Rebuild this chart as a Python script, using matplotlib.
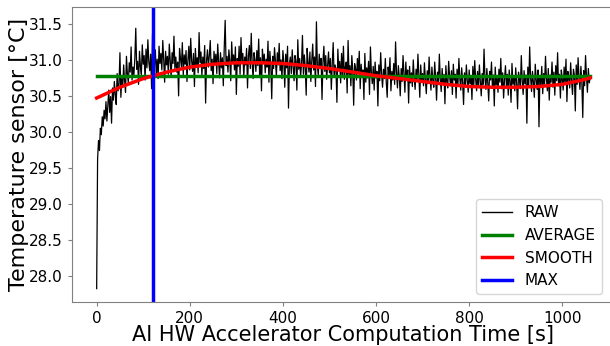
import numpy as np
import matplotlib
matplotlib.use("Agg")
import matplotlib.pyplot as plt

# sensor readings, one every 2 s
sample_step = 2
raw_temp = [
    27.82, 29.62, 29.88, 29.74, 30.05, 29.96, 30.21, 30.08, 30.30, 30.18,
    30.42, 30.15, 30.36, 30.58, 30.27, 30.49, 30.12, 30.61, 30.44, 30.70,
    30.52, 30.38, 30.81, 30.57, 30.66, 31.10, 30.48, 30.74, 30.62, 30.93,
    30.71, 30.55, 31.05, 30.80, 30.68, 30.96, 30.83, 31.18, 30.72, 30.90,
    30.79, 31.02, 31.44, 30.87, 30.98, 30.66, 31.12, 30.91, 30.80, 31.21,
    30.94, 31.06, 30.72, 31.15, 30.89, 31.28, 30.97, 30.85, 31.08, 30.60,
    31.36, 31.03, 30.92, 31.14, 30.81, 31.01, 30.74, 31.19, 30.95, 31.09,
    30.86, 31.27, 31.00, 30.69, 31.12, 30.93, 31.05, 30.80, 31.22, 30.98,
    30.76, 31.10, 30.95, 31.33, 30.88, 31.04, 30.83, 30.97, 30.50, 31.16,
    31.02, 30.90, 31.24, 30.79, 31.07, 30.94, 31.13, 30.70, 31.00, 31.19,
    30.86, 31.30, 30.99, 30.84, 31.09, 30.63, 31.16, 30.92, 31.03, 30.82,
    31.38, 30.96, 31.11, 30.78, 31.04, 30.88, 31.20, 30.40, 30.99, 31.14,
    30.90, 31.06, 31.27, 30.85, 31.01, 30.67, 31.12, 30.94, 31.08, 30.81,
    31.22, 30.97, 30.75, 31.10, 30.89, 31.03, 30.64, 31.17, 31.55, 30.92,
    31.05, 30.83, 31.14, 30.98, 30.71, 31.25, 30.95, 31.07, 30.86, 31.18,
    30.52, 31.02, 30.91, 31.19, 30.80, 31.31, 30.97, 31.09, 30.76, 31.04,
    30.93, 31.16, 30.61, 31.06, 31.20, 30.88, 31.37, 30.95, 30.74, 31.10,
    30.99, 30.84, 31.13, 30.92, 31.29, 30.79, 31.03, 30.57, 31.15, 30.96,
    31.08, 30.82, 31.01, 30.90, 31.26, 30.69, 31.12, 30.94, 30.46, 31.05,
    30.88, 31.17, 30.97, 30.78, 31.10, 30.93, 31.23, 30.85, 31.00, 30.74,
    31.13, 30.96, 30.62, 31.08, 30.89, 31.19, 30.33, 30.95, 31.04, 30.81,
    31.14, 30.91, 30.71, 31.06, 30.98, 30.58, 31.28, 30.87, 31.02, 30.77,
    30.94, 31.34, 30.80, 31.07, 30.90, 30.51, 31.16, 30.96, 30.83, 31.11,
    30.70, 30.99, 31.22, 30.86, 31.04, 30.63, 31.53, 30.92, 30.78, 31.08,
    30.88, 31.02, 30.45, 30.97, 31.19, 30.84, 31.06, 30.73, 30.93, 31.11,
    30.82, 31.02, 30.59, 30.95, 31.24, 30.76, 30.93, 30.87, 30.41, 31.15,
    30.85, 30.98, 30.68, 31.09, 30.79, 31.19, 30.73, 30.90, 30.97, 30.54,
    31.27, 30.80, 30.92, 30.64, 31.06, 30.86, 30.37, 30.95, 30.88, 30.72,
    31.02, 30.83, 31.12, 30.60, 30.94, 30.78, 30.86, 30.45, 31.09, 30.69,
    30.89, 30.75, 30.98, 30.52, 31.18, 30.82, 30.67, 30.91, 30.58, 30.97,
    30.75, 30.84, 30.36, 30.93, 30.71, 31.10, 30.80, 30.62, 30.87, 30.74,
    31.02, 30.69, 30.48, 30.90, 30.79, 31.03, 30.57, 30.84, 30.72, 30.95,
    30.66, 31.25, 30.83, 30.61, 30.92, 30.76, 30.50, 30.88, 30.70, 31.06,
    30.79, 30.55, 30.97, 30.73, 30.86, 30.40, 30.91, 30.68, 30.82, 30.63,
    31.00, 30.74, 30.59, 30.87, 30.70, 31.08, 30.77, 30.48, 30.93, 30.69,
    30.81, 30.64, 30.96, 30.72, 30.53, 30.85, 30.67, 31.04, 30.75, 30.58,
    30.90, 30.71, 30.62, 30.97, 30.76, 30.44, 30.83, 30.68, 31.08, 30.73,
    30.56, 30.88, 30.66, 30.80, 30.39, 30.92, 30.70, 30.61, 30.98, 30.77,
    30.64, 30.85, 30.52, 30.94, 30.72, 30.80, 30.47, 30.87, 30.66, 31.02,
    30.74, 30.58, 30.89, 30.69, 30.38, 30.82, 30.63, 30.93, 30.71, 30.55,
    30.86, 30.67, 30.78, 30.45, 30.91, 30.64, 30.99, 30.73, 30.57, 30.84,
    30.62, 30.93, 30.70, 30.50, 30.81, 30.66, 31.15, 30.74, 30.59, 30.88,
    30.68, 30.43, 30.84, 30.72, 30.97, 30.61, 30.79, 30.36, 30.90, 30.65,
    30.76, 30.55, 30.87, 30.69, 31.02, 30.60, 30.82, 30.47, 30.73, 30.92,
    30.64, 30.80, 30.51, 30.86, 30.70, 30.41, 30.95, 30.66, 30.78, 30.57,
    30.89, 30.68, 30.32, 30.83, 30.74, 30.60, 31.06, 30.71, 30.52, 30.85,
    30.67, 30.79, 30.12, 30.90, 30.63, 31.18, 30.75, 30.56, 30.84, 30.69,
    30.48, 30.94, 30.72, 30.59, 30.86, 30.07, 30.77, 30.65, 30.91, 30.53,
    30.81, 30.66, 31.05, 30.74, 30.57, 30.88, 30.44, 30.79, 30.69, 30.97,
    30.62, 30.83, 30.51, 30.92, 30.71, 31.10, 30.64, 30.80, 30.47, 30.86,
    30.73, 30.58, 30.90, 30.68, 31.01, 30.42, 30.84, 30.75, 30.61, 30.96,
    30.70, 30.52, 30.87, 30.79, 30.29, 30.93, 30.66, 31.03, 30.74, 30.59,
    30.91, 30.70, 30.20, 30.85, 30.64, 31.06, 30.77, 30.55, 30.88, 30.68,
    30.76,
]
raw_time = np.arange(len(raw_temp)) * sample_step

# fitted trend
smooth_time = [0, 50, 100, 150, 200, 250, 300, 350, 400, 450, 500, 550,
               600, 650, 700, 750, 800, 850, 900, 950, 1000, 1050, 1060]
smooth_temp = [30.47, 30.62, 30.74, 30.83, 30.90, 30.94, 30.96, 30.96,
               30.95, 30.92, 30.88, 30.83, 30.78, 30.74, 30.70, 30.66,
               30.63, 30.62, 30.62, 30.63, 30.66, 30.73, 30.75]

avg_temp = 30.77
max_time = 120

fig = plt.figure(figsize=(6.1, 3.46), dpi=100)
ax = fig.add_axes([0.118, 0.127, 0.89, 0.853])

ax.plot(raw_time, raw_temp, color="black", lw=0.9, label="RAW")
ax.plot([raw_time[0], raw_time[-1]], [avg_temp, avg_temp], color="green", lw=2.5, label="AVERAGE")
ax.plot(smooth_time, smooth_temp, color="red", lw=2.5, label="SMOOTH")
ax.axvline(max_time, color="blue", lw=2.5, label="MAX")

ax.set_xlim(-53, 1113)
ax.set_xticks([0, 200, 400, 600, 800, 1000])
ax.set_yticks([28.0, 28.5, 29.0, 29.5, 30.0, 30.5, 31.0, 31.5])
ax.tick_params(labelsize=11, color="grey", length=3)
for s in ax.spines.values():
    s.set_color("grey")

ax.set_xlabel("AI HW Accelerator Computation Time [s]", fontsize=15, labelpad=-1)
ax.set_ylabel("Temperature sensor [°C]", fontsize=16, labelpad=0)

leg = ax.legend(loc="lower right", fontsize=11, bbox_to_anchor=(0.99, 0.0))
leg.get_lines()[0].set_linewidth(1.0)

plt.savefig("out.png", dpi=100)
